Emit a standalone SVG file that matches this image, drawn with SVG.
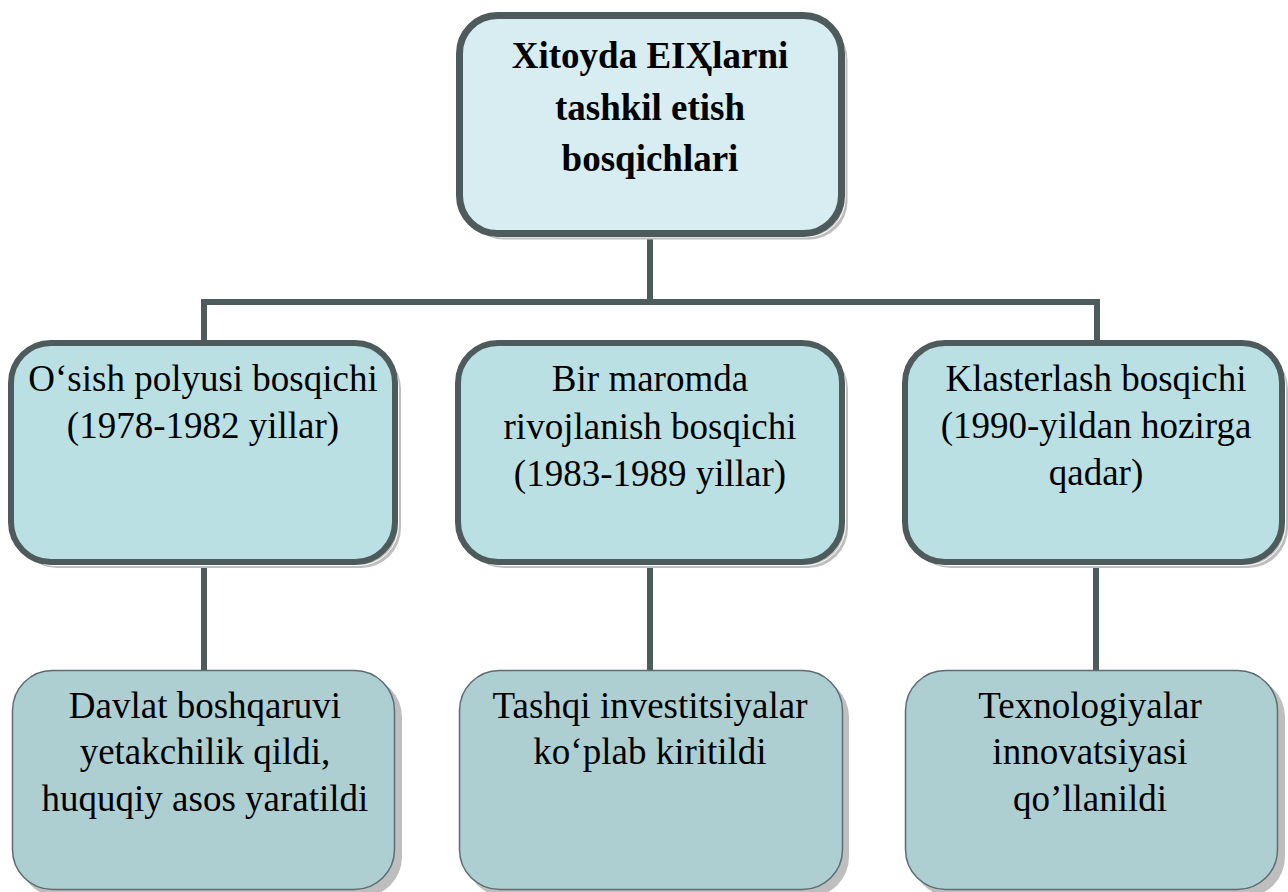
<svg xmlns="http://www.w3.org/2000/svg" width="1288" height="892" viewBox="0 0 1288 892">
<style>
.conn{fill:none;stroke:#4e5b5c;stroke-width:6}
.sh{fill:#bebebe}
.shl{fill:none;stroke:#ffffff;stroke-width:1}
.top{fill:#d8edf1;stroke:#4e5b5c;stroke-width:7}
.mid{fill:#bbe0e3;stroke:#4e5b5c;stroke-width:6}
.bot{fill:#aecfd2;stroke:#5d6d6f;stroke-width:1.5}
.t{font-size:37px;fill:#000000;text-anchor:middle}
.b{font-weight:bold}
</style>
<rect width="1288" height="892" fill="#ffffff"/>
<g id="connectors">
<path class="conn" d="M650 236 V302 M204 341 V302 H1097 V341"/>
<path class="conn" d="M204 564 V671 M650 564 V671 M1096 564 V671"/>
</g>
<g font-family="Liberation Serif, Times New Roman, serif">
<g id="root">
<rect class="sh" x="465.5" y="21.5" width="382" height="218" rx="38"/>
<rect class="shl" x="463" y="19" width="382" height="218" rx="38"/>
<rect class="top" x="459.5" y="15.5" width="382" height="218" rx="38"/>
<text class="t b" x="650" y="68">Xitoyda EIҲlarni</text>
<text class="t b" x="650" y="120">tashkil etish</text>
<text class="t b" x="650" y="171">bosqichlari</text>
</g>
<g id="stage1">
<rect class="sh" x="17" y="349" width="384" height="219" rx="40"/>
<rect class="shl" x="14.5" y="346.5" width="384" height="219" rx="40"/>
<rect class="mid" x="11" y="343" width="384" height="219" rx="40"/>
<text class="t" x="203" y="391">O‘sish polyusi bosqichi</text>
<text class="t" x="203" y="438">(1978-1982 yillar)</text>
</g>
<g id="stage2">
<rect class="sh" x="464" y="349" width="384" height="219" rx="40"/>
<rect class="shl" x="461.5" y="346.5" width="384" height="219" rx="40"/>
<rect class="mid" x="458" y="343" width="384" height="219" rx="40"/>
<text class="t" x="650" y="391">Bir maromda</text>
<text class="t" x="650" y="439">rivojlanish bosqichi</text>
<text class="t" x="650" y="486">(1983-1989 yillar)</text>
</g>
<g id="stage3">
<rect class="sh" x="911" y="349" width="377" height="219" rx="40"/>
<rect class="shl" x="908.5" y="346.5" width="377" height="219" rx="40"/>
<rect class="mid" x="905" y="343" width="377" height="219" rx="40"/>
<text class="t" x="1096" y="391">Klasterlash bosqichi</text>
<text class="t" x="1096" y="438">(1990-yildan hozirga</text>
<text class="t" x="1096" y="485">qadar)</text>
</g>
<g id="result1">
<rect class="sh" x="19" y="677" width="383" height="220" rx="40"/>
<rect class="bot" x="12.5" y="670.5" width="382" height="219" rx="40"/>
<text class="t" x="205" y="718">Davlat boshqaruvi</text>
<text class="t" x="205" y="764">yetakchilik qildi,</text>
<text class="t" x="205" y="811">huquqiy asos yaratildi</text>
</g>
<g id="result2">
<rect class="sh" x="466" y="677" width="383" height="220" rx="40"/>
<rect class="bot" x="459.5" y="670.5" width="383" height="219" rx="40"/>
<text class="t" x="650" y="718">Tashqi investitsiyalar</text>
<text class="t" x="650" y="764">ko‘plab kiritildi</text>
</g>
<g id="result3">
<rect class="sh" x="912" y="677" width="373" height="220" rx="40"/>
<rect class="bot" x="905.5" y="670.5" width="372" height="219" rx="40"/>
<text class="t" x="1090" y="718">Texnologiyalar</text>
<text class="t" x="1090" y="764">innovatsiyasi</text>
<text class="t" x="1090" y="811">qo’llanildi</text>
</g>
</g>
</svg>
